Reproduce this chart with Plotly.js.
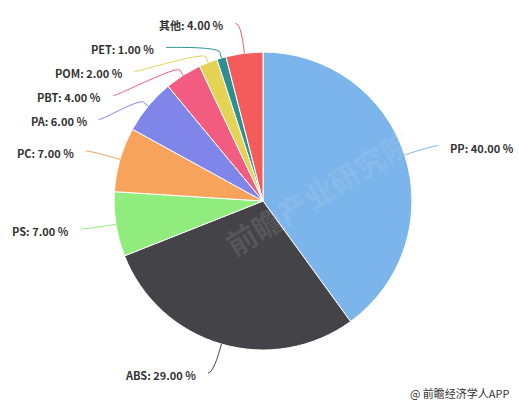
<!DOCTYPE html>
<html><head><meta charset="utf-8">
<script src="https://cdn.plot.ly/plotly-3.0.1.min.js"></script>
<style>html,body{margin:0;padding:0;background:#fff}#chart{width:519px;height:406px}</style>
</head><body><div id="chart"></div>
<script>
const categories = ['PP','ABS','PS','PC','PA','PBT','POM','PET','其他'];
const shares = [40, 29, 7, 7, 6, 4, 2, 1, 4];
const colors = ['#7cb5ec','#434348','#90ed7d','#f7a35c','#8085e9','#f15c80','#e4d354','#2b908f','#f45b5b'];
const sourceText = '@ 前瞻经济学人APP';
const watermarkText = '前瞻产业研究院';

const W = 519, H = 406;
const domX = [0.2197, 0.7938], domY = [0.1379, 0.8719];
const cx = (domX[0] + domX[1]) / 2 * W;
const cy = (1 - (domY[0] + domY[1]) / 2) * H;
const r = Math.min((domX[1] - domX[0]) * W, (domY[1] - domY[0]) * H) / 2;
const dist = 30, gap = 24;

const px = x => x / W, py = y => 1 - y / H;

const total = shares.reduce((a, b) => a + b, 0);
let cum = 0;
const pts = [];
shares.forEach((v, i) => {
  const mid = (cum + v / 2) / total * 2 * Math.PI;
  cum += v;
  const s = Math.sin(mid), c = Math.cos(mid);
  pts.push({i, left: s < 0, ny: cy - (r + dist) * c,
    tx: cx + r * s, ty: cy - r * c,
    bx: cx + (r + 6) * s, by: cy - (r + 6) * c});
});
[true, false].forEach(side => {
  const g = pts.filter(p => p.left === side).sort((a, b) => a.ny - b.ny);
  let prev = -1e9;
  g.forEach(p => { p.y = Math.max(p.ny, prev + gap); prev = p.y; });
});

const annotations = [];
const shapes = [];
pts.forEach(p => {
  const sgn = p.left ? -1 : 1;
  const xc = cx + sgn * Math.sqrt(Math.max(0, (r + dist) ** 2 - (p.y - cy) ** 2));
  const lx = xc + sgn * 5, ly = p.y;
  const c1x = lx - sgn * 5;
  const c2x = 2 * p.bx - p.tx, c2y = 2 * p.by - p.ty;
  shapes.push({type: 'path', xref: 'paper', yref: 'paper',
    path: `M ${px(lx)} ${py(ly)} C ${px(c1x)} ${py(ly)} ${px(c2x)} ${py(c2y)} ${px(p.bx)} ${py(p.by)} L ${px(p.tx)} ${py(p.ty)}`,
    line: {color: colors[p.i], width: 1}});
  annotations.push({xref: 'paper', yref: 'paper', x: px(xc + sgn * 15), y: py(p.y + 2),
    xanchor: p.left ? 'right' : 'left', yanchor: 'middle', showarrow: false,
    text: `<b>${categories[p.i]}: ${shares[p.i].toFixed(2)} %</b>`,
    font: {family: 'Noto Sans CJK SC, sans-serif', size: 11, color: '#333333'}});
});
annotations.push({xref: 'paper', yref: 'paper', x: px(512), y: py(393), xanchor: 'right', yanchor: 'middle',
  showarrow: false, text: sourceText, font: {family: 'Noto Sans CJK SC, sans-serif', size: 11, color: '#333333'}});
annotations.push({xref: 'paper', yref: 'paper', x: px(318), y: py(192), xanchor: 'center', yanchor: 'middle',
  showarrow: false, textangle: -31, text: watermarkText,
  font: {family: 'Noto Sans CJK SC, sans-serif', size: 30, color: 'rgba(225,225,225,0.12)', weight: 'bold'}});

const data = [{
  type: 'pie', labels: categories, values: shares, sort: false, direction: 'clockwise', rotation: 0,
  marker: {colors: colors, line: {color: '#ffffff', width: 1}},
  textinfo: 'none', hoverinfo: 'none', showlegend: false,
  domain: {x: domX, y: domY}
}];
const layout = {width: W, height: H, margin: {l: 0, r: 0, t: 0, b: 0},
  paper_bgcolor: '#ffffff', plot_bgcolor: '#ffffff', showlegend: false,
  annotations, shapes};
Plotly.newPlot('chart', data, layout, {displayModeBar: false, staticPlot: true});
</script></body></html>
